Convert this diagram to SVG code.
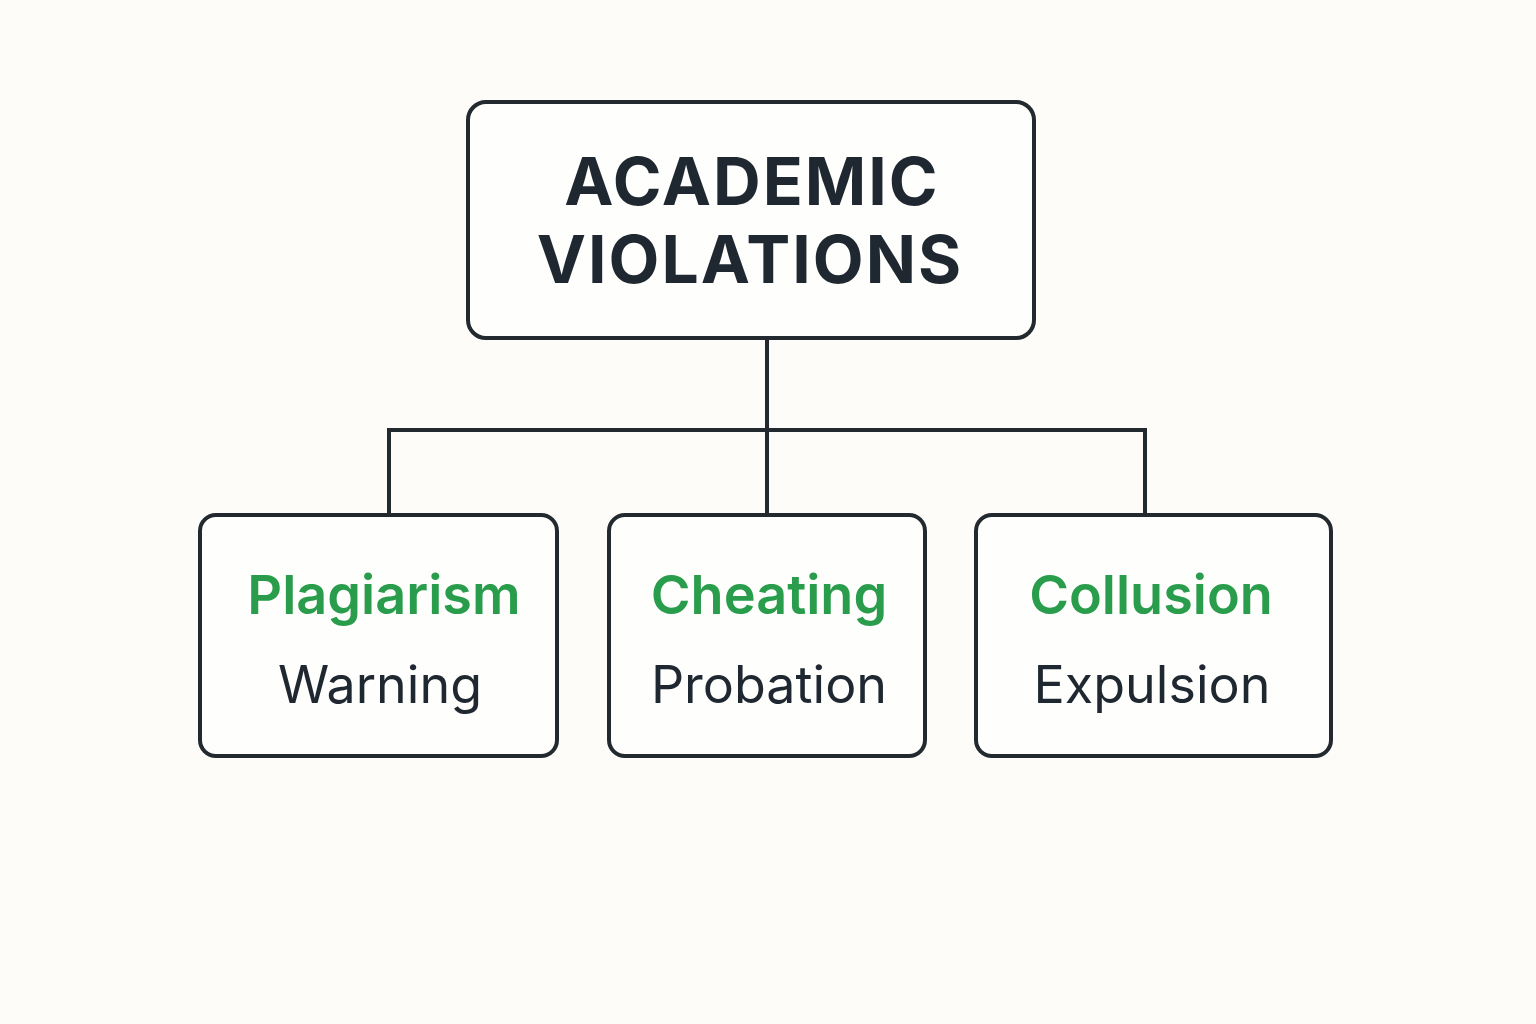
<svg xmlns="http://www.w3.org/2000/svg" width="1536" height="1024" viewBox="0 0 1536 1024">
<style>
.box{fill:#fefefc;stroke:#222a30;stroke-width:4}
.conn{fill:none;stroke:#222a30;stroke-width:4}
.title{font-family:Inter,"Liberation Sans",sans-serif;font-weight:700;font-size:66px;fill:#1f2830;text-anchor:middle;letter-spacing:2px}
.g{font-family:Inter,"Liberation Sans",sans-serif;font-weight:600;font-size:54px;fill:#2a9d4c;text-anchor:middle}
.s{font-family:Inter,"Liberation Sans",sans-serif;font-size:52px;fill:#1f2830;text-anchor:middle}
</style>
<rect width="1536" height="1024" fill="#fdfcf8"/>
<g id="connectors">
<path class="conn" d="M767 338V514M389 514V430H1145V514"/>
</g>
<g id="root"><rect class="box" x="468" y="102" width="566" height="236" rx="18"/>
<text class="title" x="752" y="205">ACADEMIC</text><text class="title" x="750" y="283">VIOLATIONS</text></g>
<g id="plagiarism"><rect class="box" x="200" y="515" width="357" height="241" rx="16"/>
<text class="g" x="384" y="614">Plagiarism</text><text class="s" x="380" y="703">Warning</text></g>
<g id="cheating"><rect class="box" x="609" y="515" width="316" height="241" rx="16"/>
<text class="g" x="769" y="614">Cheating</text><text class="s" x="769" y="703">Probation</text></g>
<g id="collusion"><rect class="box" x="976" y="515" width="355" height="241" rx="16"/>
<text class="g" x="1151" y="614">Collusion</text><text class="s" x="1152" y="703">Expulsion</text></g>
</svg>
